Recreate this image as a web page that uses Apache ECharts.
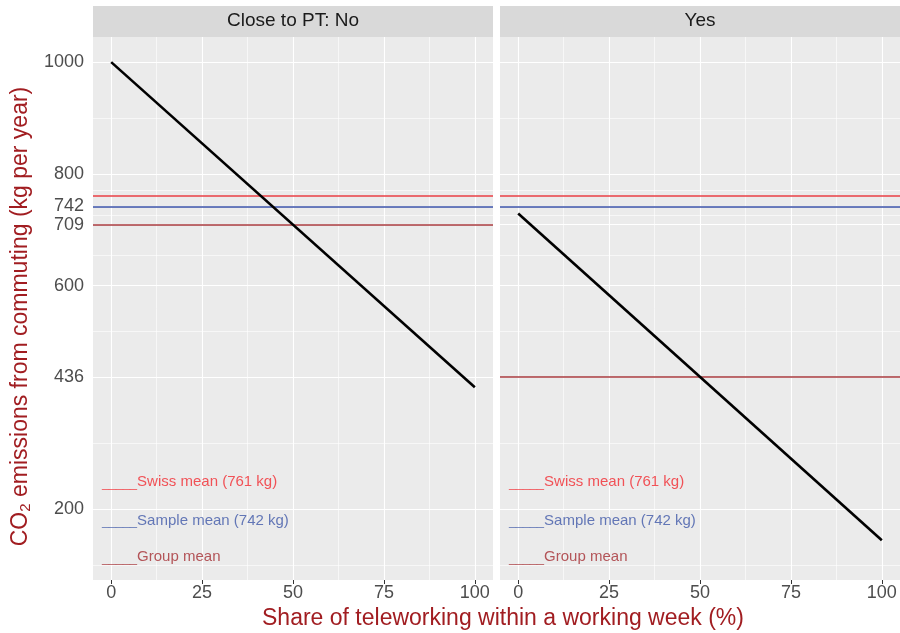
<!DOCTYPE html>
<html>
<head>
  <meta charset="utf-8">
</head>
<body style="margin: 0">
  <div id="container" style="width: 900px; height: 633px"></div>
  <script type="text/javascript" src="https://cdn.jsdelivr.net/npm/echarts@6/dist/echarts.min.js"></script>
  <script type="text/javascript">
    // facets
    var panels = ['Close to PT: No', 'Yes'];
    // axis breaks
    var xTicks = [0, 25, 50, 75, 100];
    var xMinor = [12.5, 37.5, 62.5, 87.5];
    var yTicks = [200, 436, 600, 709, 742, 800, 1000];
    var yMinor = [100, 318, 518, 654.5, 725.5, 771, 900];
    // predicted emissions per panel
    var noLine = [[0, 1000], [100, 418]];
    var yesLine = [[0, 729], [100, 144]];
    // reference lines
    var swissMean = 761;
    var sampleMean = 742;
    var groupMean = [709, 436];
    // in-panel notes
    var notes = ['Swiss mean (761 kg)', 'Sample mean (742 kg)', 'Group mean'];
    var noteX = -2.5;
    var noteY = [248, 179, 114];

    var red = '#EA3F45', blue = '#3A52A8', brown = '#A93A3E';
    var noteColors = ['#F22A31', '#4059A9', '#A52E33'];
    var titleColor = '#A11D21';

    var dom = document.getElementById('container');
    var myChart = echarts.init(dom, null, { renderer: 'canvas' });

    var grids = [
      { left: 93, right: 407, top: 37, bottom: 53 },
      { left: 500, right: 0, top: 37, bottom: 53 }
    ];
    grids.forEach(function (g) {
      g.show = true;
      g.backgroundColor = '#EBEBEB';
      g.borderWidth = 0;
    });

    var xAxes = [0, 1].map(function (i) {
      return {
        type: 'value', gridIndex: i, min: -5, max: 105,
        axisLine: { show: false },
        splitLine: { show: false },
        axisTick: { show: true, customValues: xTicks, length: 4, lineStyle: { color: '#333' } },
        axisLabel: { customValues: xTicks, fontSize: 18, color: '#4D4D4D', margin: 4 }
      };
    });
    var yAxes = [0, 1].map(function (i) {
      return {
        type: 'value', gridIndex: i, min: 73, max: 1045,
        axisLine: { show: false },
        splitLine: { show: false },
        axisTick: { show: i === 0, customValues: yTicks, length: 4, lineStyle: { color: '#333' } },
        axisLabel: {
          show: i === 0, customValues: yTicks, fontSize: 18, color: '#4D4D4D', margin: 9,
          formatter: function (v) { return String(v); }
        },
        name: i === 0 ? 'CO{sub|2} emissions from commuting (kg per year)' : '',
        nameLocation: 'middle',
        nameRotate: 90,
        nameGap: 60,
        nameTextStyle: {
          fontSize: 23, color: titleColor, padding: [0, 16, 0, 0],
          rich: { sub: { fontSize: 15, color: titleColor, verticalAlign: 'bottom', padding: [10, 0, 0, 0] } }
        }
      };
    });

    var series = [];
    [0, 1].forEach(function (i) {
      var grid = [];
      yTicks.forEach(function (v) { grid.push({ yAxis: v, lineStyle: { width: 1.1 } }); });
      yMinor.forEach(function (v) { grid.push({ yAxis: v, lineStyle: { width: 0.6 } }); });
      xTicks.forEach(function (v) { grid.push({ xAxis: v, lineStyle: { width: 1.1 } }); });
      xMinor.forEach(function (v) { grid.push({ xAxis: v, lineStyle: { width: 0.6 } }); });
      series.push({
        type: 'line', xAxisIndex: i, yAxisIndex: i, data: [], silent: true, z: 1,
        markLine: {
          silent: true, z: 1, symbol: ['none', 'none'], label: { show: false },
          lineStyle: { color: '#FFFFFF', type: 'solid' },
          emphasis: { disabled: true },
          data: grid
        }
      });
      series.push({
        type: 'line', xAxisIndex: i, yAxisIndex: i, data: [], silent: true, z: 2,
        markLine: {
          silent: true, z: 2, symbol: ['none', 'none'], label: { show: false },
          emphasis: { disabled: true },
          lineStyle: { type: 'solid', width: 1.6 },
          data: [
            { yAxis: swissMean, lineStyle: { color: red } },
            { yAxis: sampleMean, lineStyle: { color: blue } },
            { yAxis: groupMean[i], lineStyle: { color: brown } }
          ]
        }
      });
      series.push({
        type: 'line', xAxisIndex: i, yAxisIndex: i, z: 3,
        data: i === 0 ? noLine : yesLine,
        showSymbol: false, silent: true,
        lineStyle: { color: '#000000', width: 2.6 }
      });
      series.push({
        type: 'scatter', xAxisIndex: i, yAxisIndex: i, z: 4, symbolSize: 0, silent: true,
        data: notes.map(function (t, k) {
          return {
            name: t, value: [noteX, noteY[k]],
            label: { color: noteColors[k], rich: { u: { fontSize: 12.6, color: noteColors[k], verticalAlign: 'bottom' } } }
          };
        }),
        label: {
          show: true, position: 'right', distance: 0, fontSize: 15,
          formatter: function (p) { return '{u|_____}' + p.name; }
        }
      });
    });

    var graphics = [];
    panels.forEach(function (p, i) {
      var g = grids[i];
      var x0 = g.left, x1 = 900 - g.right;
      graphics.push({
        type: 'rect', shape: { x: x0, y: 6, width: x1 - x0, height: 31 },
        style: { fill: '#D9D9D9' }, silent: true
      });
      graphics.push({
        type: 'text', x: (x0 + x1) / 2, y: 21,
        style: { text: p, fontSize: 19, fill: '#1A1A1A', align: 'center', verticalAlign: 'middle', fontFamily: 'Liberation Sans' },
        silent: true
      });
    });
    graphics.push({
      type: 'text', x: 503, y: 619,
      style: { text: 'Share of teleworking within a working week (%)', fontSize: 23, fill: titleColor, align: 'center', verticalAlign: 'middle', fontFamily: 'Liberation Sans' },
      silent: true
    });

    var option = {
      animation: false,
      textStyle: { fontFamily: 'Liberation Sans' },
      grid: grids,
      xAxis: xAxes,
      yAxis: yAxes,
      series: series,
      graphic: graphics
    };

    myChart.setOption(option);
    window.addEventListener('resize', myChart.resize);
  </script>
</body>
</html>
